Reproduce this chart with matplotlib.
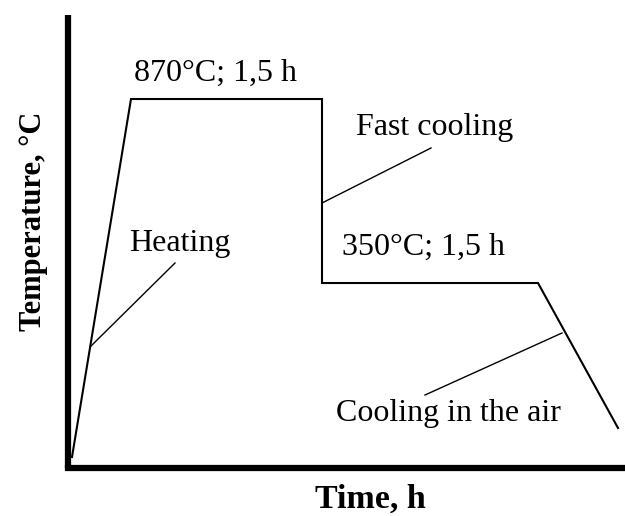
import matplotlib
matplotlib.use("Agg")
import matplotlib.pyplot as plt

# Heat-treatment profile (schematic units)
time_pts = [4, 63, 254, 254, 470, 550]
temp_pts = [11, 369, 369, 185, 185, 40]

# Leader lines: (x0, y0, x1, y1)
leaders = {
    "Heating": [22, 121, 107, 205],
    "Fast cooling": [254, 265, 363, 320],
    "Cooling in the air": [494, 135, 357, 73],
}

labels = ["870°C; 1,5 h", "Heating", "Fast cooling", "350°C; 1,5 h", "Cooling in the air"]
label_pos = [(147, 395), (112, 225), (367, 340), (355, 221), (380, 55)]

x_label = "Time, h"
y_label = "Temperature, °C"

plt.rcParams['font.family'] = ['Liberation Serif', 'DejaVu Serif']

fig = plt.figure(figsize=(6.25, 5.16), dpi=100)
ax = fig.add_axes([68/625, (516-468)/516, (625-68)/625, (468-15)/516])
ax.set_xlim(0, 557)
ax.set_ylim(0, 453)

ax.plot(time_pts, temp_pts, color='black', lw=1.5, solid_joinstyle='miter')
for k, (x0, y0, x1, y1) in leaders.items():
    ax.plot([x0, x1], [y0, y1], color='black', lw=1.0)

for t, (x, y) in zip(labels, label_pos):
    ax.text(x, y, t, fontsize=23, ha='center', va='center')

for s in ['top', 'right']:
    ax.spines[s].set_visible(False)
for s in ['left', 'bottom']:
    ax.spines[s].set_linewidth(4.5)
    ax.spines[s].set_color('black')
ax.spines['left'].set_capstyle('butt')
ax.spines['bottom'].set_capstyle('projecting')
ax.set_xticks([])
ax.set_yticks([])

fig.text(370/625, 1 - 499/516, x_label, fontsize=24.5, fontweight='bold', ha='center', va='center')
fig.text(34/625, 1 - 221/516, y_label, fontsize=22, fontweight='bold', ha='center', va='center', rotation=90)

fig.savefig("out.png", dpi=100)
